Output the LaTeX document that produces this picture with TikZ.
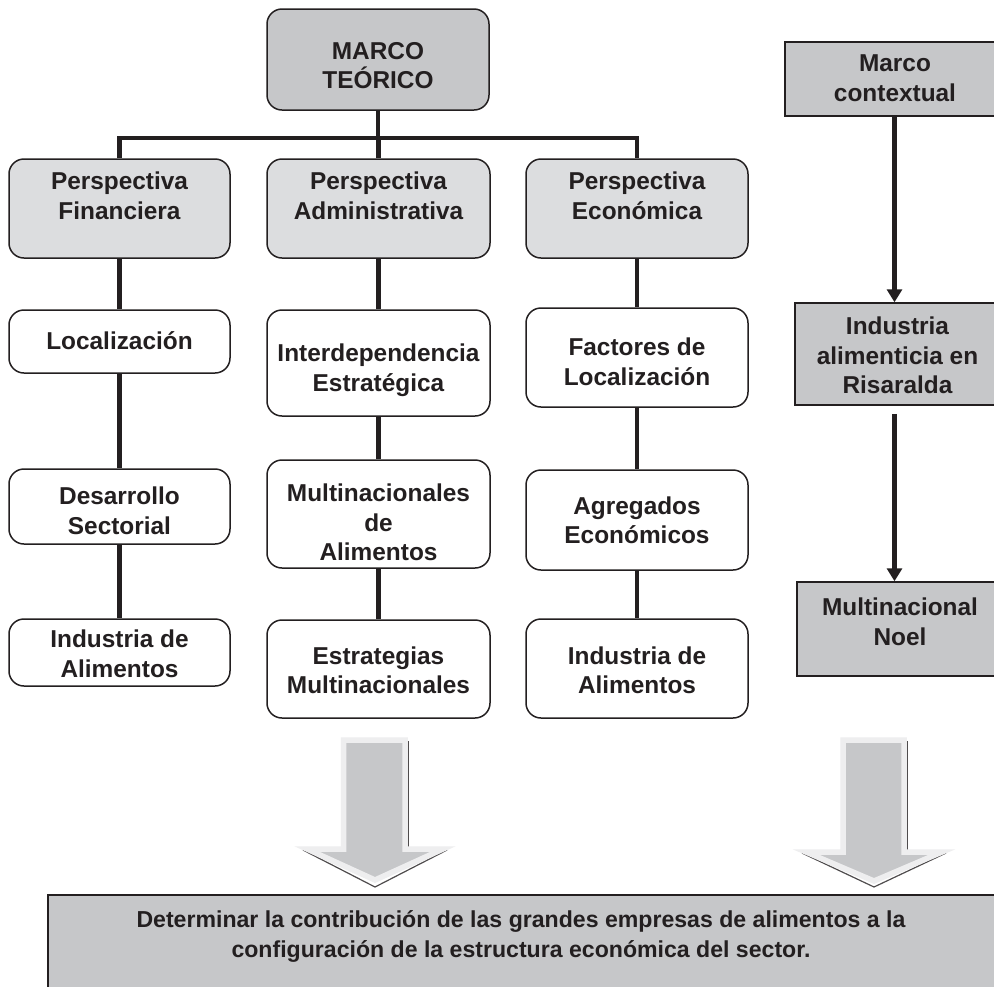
\documentclass[tikz,border=0pt]{standalone}
\usepackage{fontspec}
\setmainfont{Liberation Sans}
\usetikzlibrary{arrows.meta}
\definecolor{ink}{HTML}{231F20}
\definecolor{darkfill}{HTML}{C6C7C9}
\definecolor{lightfill}{HTML}{DCDDDF}
\definecolor{arrowedge}{HTML}{EEEEEF}
\begin{document}
\begin{tikzpicture}[x=1pt,y=-1pt,
  rbox/.style={draw=ink,line width=1.5pt,rounded corners=15pt,inner sep=0pt},
  sbox/.style={draw=ink,line width=1.5pt,fill=darkfill,inner sep=0pt},
  txt/.style={font=\fontsize{24.4}{29.5}\selectfont\bfseries,text=ink,align=center,inner sep=0pt},
  smalltxt/.style={font=\fontsize{23.1}{30}\selectfont\bfseries,text=ink,align=center,inner sep=0pt},
  link/.style={draw=ink,line width=4.5pt},
  arr/.style={draw=ink,line width=4.5pt,-{Triangle[length=13pt,width=15pt]}},
  bigarrow/.style={fill=darkfill,draw=arrowedge,line width=5.5pt,line join=miter},
  shadowline/.style={draw=ink!80,line width=1.2pt}]
\clip (0,0) rectangle (994,986);
\fill[white] (0,0) rectangle (994,986);

% ---- boxes ----
\node[rbox,fill=darkfill,minimum width=222pt,minimum height=101pt] (mt) at (378,59.5) {};
\node[rbox,fill=lightfill,minimum width=221pt,minimum height=99pt] (pf) at (119.5,208.5) {};
\node[rbox,fill=lightfill,minimum width=223pt,minimum height=99pt] (pa) at (378.5,208.5) {};
\node[rbox,fill=lightfill,minimum width=222pt,minimum height=99pt] (pe) at (637,208.5) {};

\node[rbox,fill=white,minimum width=221pt,minimum height=63pt] (loc) at (119.5,341.5) {};
\node[rbox,fill=white,minimum width=221pt,minimum height=75pt] (des) at (119.5,506.5) {};
\node[rbox,fill=white,minimum width=221pt,minimum height=67pt] (iaA) at (119.5,652.5) {};

\node[rbox,fill=white,minimum width=223pt,minimum height=106pt] (inter) at (378.5,363) {};
\node[rbox,fill=white,minimum width=223pt,minimum height=108pt] (mult) at (378.5,514) {};
\node[rbox,fill=white,minimum width=223pt,minimum height=98pt] (estr) at (378.5,669) {};

\node[rbox,fill=white,minimum width=222pt,minimum height=99pt] (fac) at (637,357.5) {};
\node[rbox,fill=white,minimum width=222pt,minimum height=100pt] (agr) at (637,520) {};
\node[rbox,fill=white,minimum width=222pt,minimum height=99pt] (iaC) at (637,668.5) {};

\node[sbox,minimum width=215pt,minimum height=74pt] (mc) at (892.5,79) {};
\node[sbox,minimum width=205pt,minimum height=102pt] (iar) at (897.5,354) {};
\node[sbox,minimum width=203pt,minimum height=94pt] (mn) at (898.5,629) {};
\node[sbox,minimum width=952pt,minimum height=105pt] (obj) at (524,947.5) {};

% ---- texts ----
\node[txt,anchor=north] (tmt) at (378,42) {MARCO\\TEÓRICO};
\node[txt,anchor=north] (tpf) at (119.5,172) {Perspectiva\\Financiera};
\node[txt,anchor=north] (tpa) at (378.5,172) {Perspectiva\\Administrativa};
\node[txt,anchor=north] (tpe) at (637,172) {Perspectiva\\Económica};
\node[txt] (tloc) at (119.5,341) {Localización};
\node[txt,anchor=north] (tdes) at (119.5,487) {Desarrollo\\Sectorial};
\node[txt,anchor=north] (tiaA) at (119.5,630) {Industria de\\Alimentos};
\node[txt,anchor=north] (tinter) at (378.5,344) {Interdependencia\\Estratégica};
\node[txt,anchor=north] (tmult) at (378.5,484) {Multinacionales\\de\\Alimentos};
\node[txt,anchor=north] (testr) at (378.5,646.5) {Estrategias\\Multinacionales};
\node[txt,anchor=north] (tfac) at (637,338) {Factores de\\Localización};
\node[txt,anchor=north] (tagr) at (637,496.5) {Agregados\\Económicos};
\node[txt,anchor=north] (tiaC) at (637,646.5) {Industria de\\Alimentos};
\node[txt,anchor=north] (tmc) at (895,55) {Marco\\contextual};
\node[txt,anchor=north] (tiar) at (897.5,317) {Industria\\alimenticia en\\Risaralda};
\node[txt,anchor=north] (tmn) at (900,598) {Multinacional\\Noel};
\node[smalltxt,anchor=north] (tobj) at (521,910) {Determinar la contribución de las grandes empresas de alimentos a la\\configuración de la estructura económica del sector.};

% ---- connectors ----
\coordinate (barC) at (378,138);
\draw[link] (mt.south) -- (barC);
\draw[link] (pf.north) -- (pf.north |- barC) -- (pe.north |- barC) -- (pe.north);
\draw[link] (pa.north) -- (pa.north |- barC);
\draw[link] (pf) -- (loc);
\draw[link] (loc) -- (des);
\draw[link] (des) -- (iaA);
\draw[link] (pa) -- (inter);
\draw[link] (inter) -- (mult);
\draw[link] (mult) -- (estr);
\draw[link] (pe) -- (fac);
\draw[link] (fac) -- (agr);
\draw[link] (agr) -- (iaC);
\draw[arr] ([xshift=2pt]mc.south) -- ([xshift=-3pt]iar.north);
\draw[arr] ([xshift=-3pt,yshift=-8pt]iar.south) -- ([xshift=-4pt]mn.north);

% ---- big block arrows ----
\draw[shadowline] (408.5,741) -- (408.5,850);
\draw[shadowline] (303,850) -- (375,887) -- (447,850);
\draw[bigarrow] (343.5,740) -- (405,740) -- (405,849) -- (443,849) -- (375,880) -- (307,849) -- (343.5,849) -- cycle;

\draw[shadowline] (907.5,741) -- (907.5,853);
\draw[shadowline] (802,853) -- (874,887) -- (946,853);
\draw[bigarrow] (843,740) -- (904,740) -- (904,852) -- (942,852) -- (874,881) -- (806,852) -- (843,852) -- cycle;
\end{tikzpicture}
\end{document}
